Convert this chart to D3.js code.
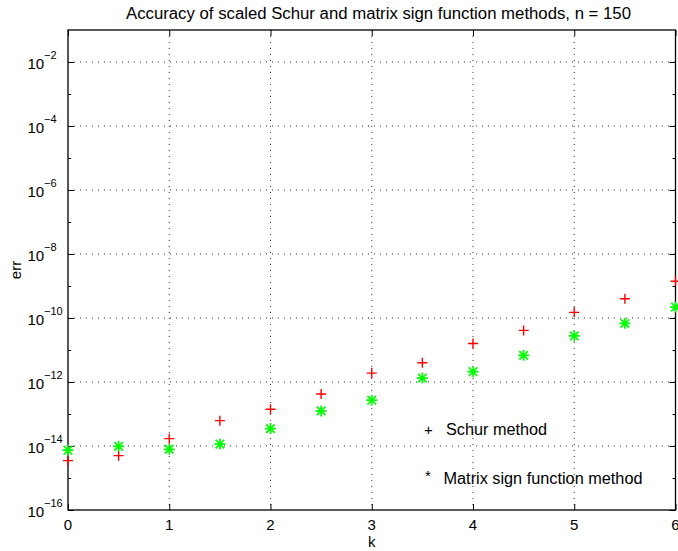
<!DOCTYPE html>
<html>
<head>
<meta charset="utf-8">
<script src="https://cdn.jsdelivr.net/npm/d3@7"></script>
<style>
  html, body { margin: 0; padding: 0; background: #fff; }
  svg { display: block; }
  text { font-family: "Liberation Sans", Arial, Helvetica, sans-serif; fill: #000; }
</style>
</head>
<body>
<svg id="chart" width="678" height="551"></svg>
<script>
const kValues = [0, 0.5, 1, 1.5, 2, 2.5, 3, 3.5, 4, 4.5, 5, 5.5, 6];
const schurErr = [3.5e-15, 5.0e-15, 1.7e-14, 6.2e-14, 1.4e-13, 4.2e-13, 1.9e-12, 4.0e-12, 1.6e-11, 4.1e-11, 1.5e-10, 4.0e-10, 1.4e-9];
const signErr = [7.4e-15, 9.8e-15, 7.9e-15, 1.15e-14, 3.5e-14, 1.25e-13, 2.7e-13, 1.33e-12, 2.1e-12, 6.8e-12, 2.75e-11, 6.8e-11, 2.2e-10];
const xTicks = [0, 1, 2, 3, 4, 5, 6];
const yMajorExp = [-16, -14, -12, -10, -8, -6, -4, -2];
const yMinorExp = [-15, -13, -11, -9, -7, -5, -3];
const titleText = "Accuracy of scaled Schur and matrix sign function methods, n = 150";
const xLabel = "k";
const yLabel = "err";
const legendLabels = ["Schur method", "Matrix sign function method"];
const legendSymbols = ["+", "*"];

const svg = d3.select("#chart");
const L = 68, R = 675.5, T = 30, B = 510;

const x = d3.scaleLinear().domain([0, 6]).range([L, R]);
const y = d3.scaleLog().domain([1e-16, 1e-1]).range([B, T]);

// grid
const grid = svg.append("g");
grid.selectAll("line.vg").data(xTicks.filter(d => d > 0 && d < 6)).enter().append("line")
  .attr("x1", d => x(d)).attr("x2", d => x(d)).attr("y1", T).attr("y2", B)
  .attr("stroke", "#333").attr("stroke-width", 1).attr("stroke-dasharray", "1,5");
grid.selectAll("line.hg").data(yMajorExp.filter(e => e > -16)).enter().append("line")
  .attr("x1", L).attr("x2", R).attr("y1", e => y(Math.pow(10, e))).attr("y2", e => y(Math.pow(10, e)))
  .attr("stroke", "#333").attr("stroke-width", 1).attr("stroke-dasharray", "1,5");

// axes via d3 axis (inward ticks)
const xAxisB = d3.axisBottom(x).tickValues(xTicks).tickSize(-6).tickFormat("");
const xAxisT = d3.axisTop(x).tickValues(xTicks).tickSize(-6).tickFormat("");
const majorVals = yMajorExp.map(e => Math.pow(10, e));
const minorVals = yMinorExp.map(e => Math.pow(10, e));
const yAxisL = d3.axisLeft(y).tickValues(majorVals).tickSize(-6).tickFormat("");
const yAxisR = d3.axisRight(y).tickValues(majorVals).tickSize(-6).tickFormat("");
const yAxisLm = d3.axisLeft(y).tickValues(minorVals).tickSize(-3).tickFormat("");
const yAxisRm = d3.axisRight(y).tickValues(minorVals).tickSize(-3).tickFormat("");

function styleAxis(g) {
  g.select(".domain").remove();
  g.selectAll(".tick line").attr("stroke", "#000").attr("stroke-width", 1);
}
svg.append("g").attr("transform", `translate(0,${B})`).call(xAxisB).call(styleAxis);
svg.append("g").attr("transform", `translate(0,${T})`).call(xAxisT).call(styleAxis);
svg.append("g").attr("transform", `translate(${L},0)`).call(yAxisL).call(styleAxis);
svg.append("g").attr("transform", `translate(${R},0)`).call(yAxisR).call(styleAxis);
svg.append("g").attr("transform", `translate(${L},0)`).call(yAxisLm).call(styleAxis);
svg.append("g").attr("transform", `translate(${R},0)`).call(yAxisRm).call(styleAxis);

// frame
svg.append("rect").attr("x", L).attr("y", T).attr("width", R - L).attr("height", B - T)
  .attr("fill", "none").attr("stroke", "#000").attr("stroke-width", 1.3);

// x tick labels
svg.append("g").selectAll("text").data(xTicks).enter().append("text")
  .attr("x", d => x(d)).attr("y", 530).attr("text-anchor", "middle")
  .style("font-size", "15px").text(d => d);

// y tick labels 10^e
const yl = svg.append("g").selectAll("g").data(yMajorExp).enter().append("g");
yl.append("text").attr("x", 27.5).attr("y", e => y(Math.pow(10, e)) + 6.5)
  .style("font-size", "15px").text("10");
yl.append("text").attr("x", 44).attr("y", e => y(Math.pow(10, e)) - 3.5)
  .style("font-size", "11px").text(e => "\u2212" + Math.abs(e));

// markers
const plotG = svg.append("g");
const arm = 5;
plotG.selectAll("path.schur").data(kValues).enter().append("path")
  .attr("d", (d, i) => {
    const cx = x(d), cy = y(schurErr[i]);
    return `M${cx - arm},${cy}H${cx + arm}M${cx},${cy - arm}V${cy + arm}`;
  })
  .attr("stroke", "#ff0000").attr("stroke-width", 1.4).attr("fill", "none");
plotG.selectAll("path.sign").data(kValues).enter().append("path")
  .attr("d", (d, i) => {
    const cx = x(d), cy = y(signErr[i]);
    const a = 5.5, b = 4.3;
    return `M${cx - a},${cy}H${cx + a}M${cx},${cy - a}V${cy + a}` +
      `M${cx - b},${cy - b}L${cx + b},${cy + b}M${cx - b},${cy + b}L${cx + b},${cy - b}`;
  })
  .attr("stroke", "#00ff00").attr("stroke-width", 1.7).attr("fill", "none");

// legend (text)
svg.append("text").attr("x", 424).attr("y", 435).style("font-size", "15px").text(legendSymbols[0]);
svg.append("text").attr("x", 446).attr("y", 435).style("font-size", "16px")
  .attr("textLength", 101).attr("lengthAdjust", "spacingAndGlyphs").text(legendLabels[0]);
svg.append("text").attr("x", 425).attr("y", 481).style("font-size", "15px").text(legendSymbols[1]);
svg.append("text").attr("x", 443.5).attr("y", 484).style("font-size", "16px")
  .attr("textLength", 199).attr("lengthAdjust", "spacingAndGlyphs").text(legendLabels[1]);

// title & axis labels
svg.append("text").attr("x", 126).attr("y", 19).style("font-size", "16px")
  .attr("textLength", 505).attr("lengthAdjust", "spacingAndGlyphs").text(titleText);
svg.append("text").attr("x", x(3)).attr("y", 547).attr("text-anchor", "middle")
  .style("font-size", "15px").text(xLabel);
svg.append("text").attr("transform", `translate(21,${(T + B) / 2}) rotate(-90)`)
  .attr("text-anchor", "middle").style("font-size", "15px").text(yLabel);
</script>
</body>
</html>
